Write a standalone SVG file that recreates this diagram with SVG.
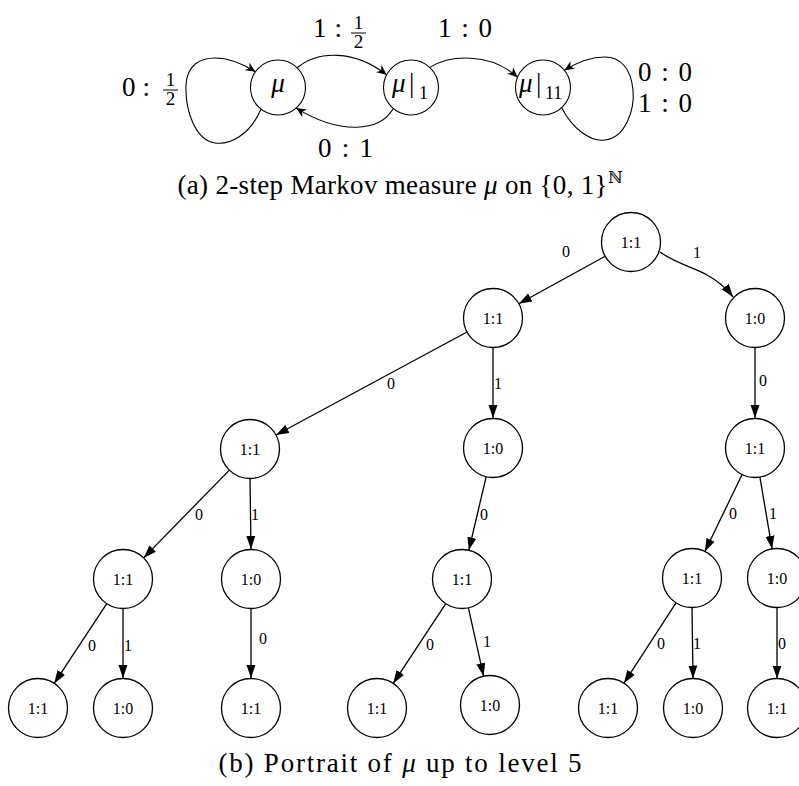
<svg xmlns="http://www.w3.org/2000/svg" width="799" height="786" viewBox="0 0 799 786">
<style>
.bg{fill:#fff}
.tc{fill:#fff;stroke:#000;stroke-width:1.3}
.sc{fill:#fff;stroke:#000;stroke-width:1.1}
.te{fill:none;stroke:#000;stroke-width:1.3;marker-end:url(#ah)}
.se{fill:none;stroke:#000;stroke-width:1.1;marker-end:url(#st)}
.nl{font-family:"Liberation Serif","Times New Roman",serif;font-size:16px;text-anchor:middle;fill:#000}
.el{font-family:"Liberation Serif","Times New Roman",serif;font-size:16px;text-anchor:middle;fill:#000}
.m{font-family:"Liberation Serif","Times New Roman",serif;font-size:27px;fill:#000}
.fr{font-family:"Liberation Serif","Times New Roman",serif;font-size:19px;text-anchor:middle;fill:#000}
.cap{font-family:"Liberation Serif","Times New Roman",serif;font-size:27px;text-anchor:middle;fill:#000}
.it{font-style:italic}
.bar{stroke:#000;stroke-width:1}
</style>
<defs>
<marker id="ah" markerWidth="13" markerHeight="10" refX="13" refY="5" orient="auto" markerUnits="userSpaceOnUse"><path d="M0,0.5 L13,5 L0,9.5 z" fill="#000"/></marker>
<marker id="st" markerWidth="11" markerHeight="9" refX="10" refY="4.5" orient="auto" markerUnits="userSpaceOnUse"><path d="M0,0 L10,4.5 L0,9 L3,4.5 z" fill="#000"/></marker>
</defs>
<rect class="bg" x="0" y="0" width="799" height="786"/>

<!-- (a) Markov chain -->
<g id="connectors-a">
<path class="se" d="M261,109 C250,135 230,145 215,143 C195,140 185,110 186,85 C187,65 200,58 215,58 C230,58 243,64 255.5,71.7"/>
<path class="se" d="M297,68 C318,50 355,50 386.6,74.8"/>
<path class="se" d="M393.3,108.5 C380,132 340,135 296.1,108.1"/>
<path class="se" d="M429.8,67.4 C450,55 490,52 517.5,77.2"/>
<path class="se" d="M561.7,107.7 C572,128 590,142 605,140 C625,138 635,110 633,90 C631,68 620,57 605,57 C590,57 576,63 564.4,70.3"/>
</g>
<g id="labels-a">
<text class="m" x="122" y="96" textLength="28">0 :</text>
<text class="fr" x="170.5" y="86">1</text>
<line class="bar" x1="163" y1="90" x2="178" y2="90"/>
<text class="fr" x="170.5" y="105">2</text>

<text class="m" x="313" y="37" textLength="29">1 :</text>
<text class="fr" x="358.5" y="29">1</text>
<line class="bar" x1="351" y1="33" x2="366" y2="33"/>
<text class="fr" x="358.5" y="48">2</text>

<text class="m" x="438" y="37" textLength="54">1 : 0</text>
<text class="m" x="318" y="157" textLength="55">0 : 1</text>
<text class="m" x="638" y="81" textLength="54">0 : 0</text>
<text class="m" x="638" y="112" textLength="54">1 : 0</text>
</g>
<g id="node-mu">
<circle class="sc" cx="278" cy="87.5" r="27.5"/>
<text class="m it" x="278" y="92" text-anchor="middle">μ</text>
</g>
<g id="node-mu1">
<circle class="sc" cx="411" cy="87.5" r="27.5"/>
<text class="m"><tspan class="it" x="392" y="92">μ</tspan><tspan x="409" y="92">|</tspan><tspan x="419" y="99" font-size="18">1</tspan></text>
</g>
<g id="node-mu11">
<circle class="sc" cx="543" cy="87.5" r="27.5"/>
<text class="m"><tspan class="it" x="519" y="92">μ</tspan><tspan x="536" y="92">|</tspan><tspan x="545" y="99" font-size="18">11</tspan></text>
</g>
<text class="cap" x="400" y="194" textLength="445" lengthAdjust="spacing">(a) 2-step Markov measure <tspan class="it">μ</tspan> on {0, 1}<tspan font-family="DejaVu Serif" font-size="16" dy="-11">ℕ</tspan></text>

<!-- (b) Portrait tree -->
<g id="connectors-b">
<path class="te" d="M605.2,256.2 L518.8,303.8"/>
<path class="te" d="M660,252 C675,263 695,268 707,275 C718,281 727,289 733,297"/>
<path class="te" d="M467,332 L276,435"/>
<path class="te" d="M493,348 L493,418"/>
<path class="te" d="M755,348 L755,418"/>
<path class="te" d="M229.4,470.1 L143.6,557.9"/>
<path class="te" d="M250,479 L251,549"/>
<path class="te" d="M486.2,476.7 L468.8,550.3"/>
<path class="te" d="M742.1,474.5 L704.9,551.5"/>
<path class="te" d="M759.9,477.1 L772.1,548.9"/>
<path class="te" d="M106.8,603.6 L54.2,683.4"/>
<path class="te" d="M123,609 L123,678"/>
<path class="te" d="M251,609 L251,678"/>
<path class="te" d="M445.8,603.6 L393.2,683.4"/>
<path class="te" d="M468.4,607.8 L483.6,676.2"/>
<path class="te" d="M676,602.8 L624,683.2"/>
<path class="te" d="M692,607.5 L693,678.5"/>
<path class="te" d="M777,607.5 L777,678.5"/>
</g>
<g id="edge-labels-b">
<text class="el" x="566" y="257">0</text>
<text class="el" x="697" y="258">1</text>
<text class="el" x="391" y="389">0</text>
<text class="el" x="498" y="389">1</text>
<text class="el" x="763" y="386">0</text>
<text class="el" x="199" y="520">0</text>
<text class="el" x="255" y="520">1</text>
<text class="el" x="484" y="520">0</text>
<text class="el" x="733" y="519">0</text>
<text class="el" x="773" y="519">1</text>
<text class="el" x="92" y="651">0</text>
<text class="el" x="128" y="651">1</text>
<text class="el" x="263" y="644">0</text>
<text class="el" x="430" y="650">0</text>
<text class="el" x="487" y="647">1</text>
<text class="el" x="661" y="649">0</text>
<text class="el" x="697" y="649">1</text>
<text class="el" x="782" y="649">0</text>
</g>
<g id="t0"><circle class="tc" cx="631" cy="242" r="29.5"/><text class="nl" x="631" y="247.5">1:1</text></g>
<g id="t1"><circle class="tc" cx="493" cy="318" r="29.5"/><text class="nl" x="493" y="323.5">1:1</text></g>
<g id="t2"><circle class="tc" cx="755" cy="318" r="29.5"/><text class="nl" x="755" y="323.5">1:0</text></g>
<g id="t3"><circle class="tc" cx="250" cy="449" r="29.5"/><text class="nl" x="250" y="454.5">1:1</text></g>
<g id="t4"><circle class="tc" cx="493" cy="448" r="29.5"/><text class="nl" x="493" y="453.5">1:0</text></g>
<g id="t5"><circle class="tc" cx="755" cy="448" r="29.5"/><text class="nl" x="755" y="453.5">1:1</text></g>
<g id="t6"><circle class="tc" cx="123" cy="579" r="29.5"/><text class="nl" x="123" y="584.5">1:1</text></g>
<g id="t7"><circle class="tc" cx="251" cy="579" r="29.5"/><text class="nl" x="251" y="584.5">1:0</text></g>
<g id="t8"><circle class="tc" cx="462" cy="579" r="29.5"/><text class="nl" x="462" y="584.5">1:1</text></g>
<g id="t9"><circle class="tc" cx="692" cy="578" r="29.5"/><text class="nl" x="692" y="583.5">1:1</text></g>
<g id="t10"><circle class="tc" cx="777" cy="578" r="29.5"/><text class="nl" x="777" y="583.5">1:0</text></g>
<g id="t11"><circle class="tc" cx="38" cy="708" r="29.5"/><text class="nl" x="38" y="713.5">1:1</text></g>
<g id="t12"><circle class="tc" cx="123" cy="708" r="29.5"/><text class="nl" x="123" y="713.5">1:0</text></g>
<g id="t13"><circle class="tc" cx="251" cy="708" r="29.5"/><text class="nl" x="251" y="713.5">1:1</text></g>
<g id="t14"><circle class="tc" cx="377" cy="708" r="29.5"/><text class="nl" x="377" y="713.5">1:1</text></g>
<g id="t15"><circle class="tc" cx="490" cy="705" r="29.5"/><text class="nl" x="490" y="710.5">1:0</text></g>
<g id="t16"><circle class="tc" cx="608" cy="708" r="29.5"/><text class="nl" x="608" y="713.5">1:1</text></g>
<g id="t17"><circle class="tc" cx="693" cy="708" r="29.5"/><text class="nl" x="693" y="713.5">1:0</text></g>
<g id="t18"><circle class="tc" cx="777" cy="708" r="29.5"/><text class="nl" x="777" y="713.5">1:1</text></g>
<text class="cap" x="400" y="772" textLength="363" lengthAdjust="spacing">(b) Portrait of <tspan class="it">μ</tspan> up to level 5</text>
</svg>
